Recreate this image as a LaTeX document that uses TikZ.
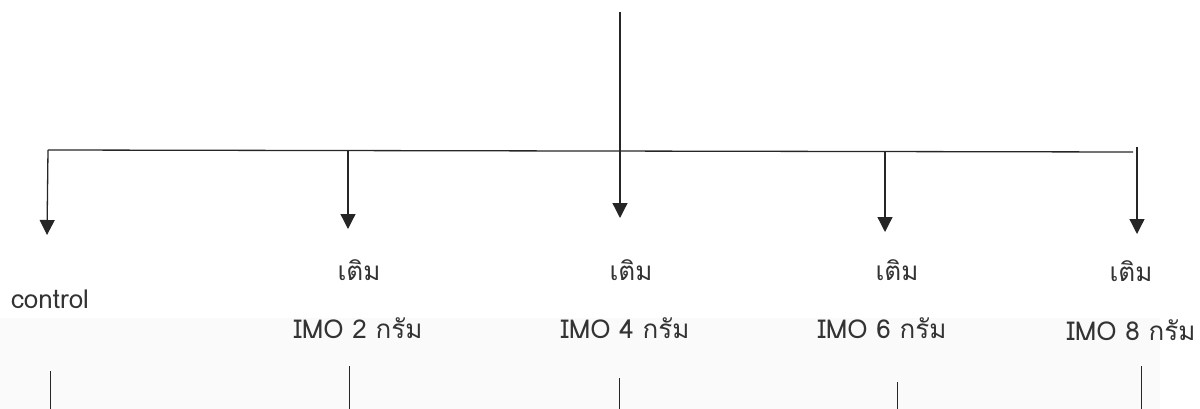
\documentclass[tikz,border=0pt]{standalone}
\usepackage{fontspec}
\usetikzlibrary{arrows.meta}
\newfontfamily\thaifont[Script=Thai]{Loma}
\begin{document}
\begin{tikzpicture}[x=1pt,y=-1pt,
  conn/.style={line width=1.3pt,draw=black!85},
  arr/.style={conn,-{Triangle[width=15pt,length=15pt]}},
  lbl/.style={font=\thaifont\fontsize{26}{30}\selectfont,text=black!80,inner sep=0pt,anchor=center},
  stub/.style={line width=1pt,draw=black!85}]
\useasboundingbox (0,0) rectangle (1200,409);
\fill[black!2] (0,318) rectangle (1160,409);
% top trunk
\coordinate (top) at (620,12);
\coordinate (hl) at (48,150);
\coordinate (hr) at (1133,152);
\coordinate (j1) at (48,150);
\coordinate (j2) at (348,150.8);
\coordinate (j3) at (620,151.3);
\coordinate (j4) at (885,151.8);
\coordinate (j5) at (1137,147);
\coordinate (t1) at (47,235);
\coordinate (t2) at (348,229);
\coordinate (t3) at (620,218);
\coordinate (t4) at (885,232);
\coordinate (t5) at (1137,234);
\draw[conn] (hl) -- (hr);
\draw[arr] (top) -- (t3);
\draw[arr] (j1) -- (t1);
\draw[arr] (j2) -- (t2);
\draw[arr] (j4) -- (t4);
\draw[arr] (j5) -- (t5);
% labels
\node[lbl] (c0) at (50,299) {control};
\node[lbl] (a2) at (359,270) {เติม};
\node[lbl] (b2) at (358,328) {IMO 2 กรัม};
\node[lbl] (a3) at (631,270) {เติม};
\node[lbl] (b3) at (625,328) {IMO 4 กรัม};
\node[lbl] (a4) at (897,270) {เติม};
\node[lbl] (b4) at (882,328) {IMO 6 กรัม};
\node[lbl] (a5) at (1131,271) {เติม};
\node[lbl] (b5) at (1131,330) {IMO 8 กรัม};
% bottom stubs
\coordinate (s1a) at (50,371); \coordinate (s1b) at (50,409);
\coordinate (s2a) at (349,366); \coordinate (s2b) at (349,409);
\coordinate (s3a) at (619,378); \coordinate (s3b) at (619,409);
\coordinate (s4a) at (897,382); \coordinate (s4b) at (897,409);
\coordinate (s5a) at (1141,366); \coordinate (s5b) at (1141,409);
\draw[stub] (s1a) -- (s1b);
\draw[stub] (s2a) -- (s2b);
\draw[stub] (s3a) -- (s3b);
\draw[stub] (s4a) -- (s4b);
\draw[stub] (s5a) -- (s5b);
\end{tikzpicture}
\end{document}
